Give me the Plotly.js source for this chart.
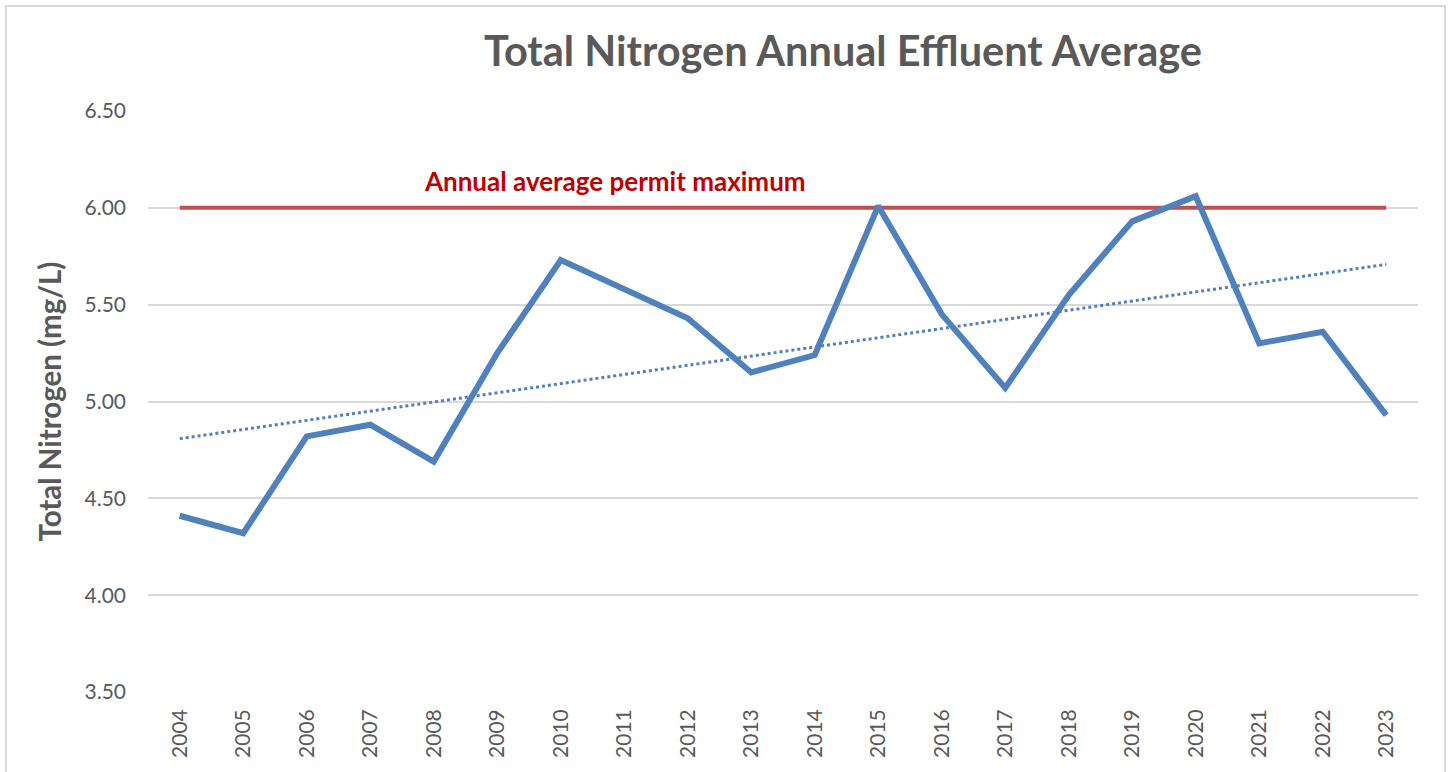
<!DOCTYPE html>
<html>
<head>
<meta charset="utf-8">
<script src="https://cdn.plot.ly/plotly-3.0.1.min.js"></script>
<style>
html,body{margin:0;padding:0;background:#fff;}
#chart{width:1452px;height:772px;}
</style>
</head>
<body>
<div id="chart"></div>
<script>
// ---- data ----
const years = ["2004","2005","2006","2007","2008","2009","2010","2011","2012","2013",
               "2014","2015","2016","2017","2018","2019","2020","2021","2022","2023"];
const totalNitrogen = [4.41,4.32,4.82,4.88,4.69,5.25,5.73,5.58,5.43,5.15,
                       5.24,6.01,5.45,5.07,5.55,5.93,6.06,5.30,5.36,4.93];
const permitMaximum = 6.00;
const permitLabel = "Annual average permit maximum";
const chartTitle = "Total Nitrogen Annual Effluent Average";
const yTitle = "Total Nitrogen (mg/L)";
const yTicks = [3.5,4.0,4.5,5.0,5.5,6.0,6.5];

// linear trendline (least squares, as the spreadsheet draws it)
const n = totalNitrogen.length;
const xs = totalNitrogen.map((_, i) => i);
const mx = xs.reduce((a,b)=>a+b,0)/n;
const my = totalNitrogen.reduce((a,b)=>a+b,0)/n;
let sxy = 0, sxx = 0;
for (let i=0;i<n;i++){ sxy += (xs[i]-mx)*(totalNitrogen[i]-my); sxx += (xs[i]-mx)*(xs[i]-mx); }
const slope = sxy/sxx, intercept = my - slope*mx;
const trend = xs.map(x => intercept + slope*x);
const permitLine = years.map(() => permitMaximum);

const FONT = "Lato, 'Open Sans', sans-serif";
const GRAY = "#595959";

const traces = [
  {x: years, y: permitLine, type: "scatter", mode: "lines",
   line: {color: "#C0504D", width: 4}, hoverinfo: "skip", showlegend: false},
  {x: years, y: trend, type: "scatter", mode: "lines",
   line: {color: "#4F81BD", width: 3, dash: "dot"}, showlegend: false},
  {x: years, y: totalNitrogen, type: "scatter", mode: "lines",
   line: {color: "#4F81BD", width: 6}, showlegend: false}
];

const W = 1452, H = 772, L = 148, R = 34, T = 111, B = 80;
const pw = W - L - R, ph = H - T - B;

const layout = {
  width: W, height: H,
  margin: {l: L, r: R, t: T, b: B, pad: 0},
  paper_bgcolor: "#fff", plot_bgcolor: "#fff",
  font: {family: FONT, color: GRAY},
  title: {text: "<b>" + chartTitle + "</b>", font: {family: FONT, size: 41.5, color: GRAY},
          x: 843/W, xref: "container", xanchor: "center",
          y: 1 - 51/H, yref: "container", yanchor: "middle"},
  xaxis: {type: "category", range: [-0.5, 19.5], showgrid: false, zeroline: false,
          showline: false, ticks: "", tickangle: -90, tickfont: {size: 21, color: GRAY, family: FONT},
          ticklabelstandoff: 12, fixedrange: true},
  yaxis: {range: [3.5, 6.5], tickvals: yTicks, tickformat: ".2f",
          showgrid: true, gridcolor: "#D9D9D9", gridwidth: 2, zeroline: false, showline: false,
          ticks: "", tickfont: {size: 21, color: GRAY, family: FONT}, ticklabelstandoff: 21,
          title: {text: "<b>" + yTitle + "</b>", font: {size: 29.5, color: GRAY, family: FONT}, standoff: 14},
          fixedrange: true},
  annotations: [
    {text: "<b>" + permitLabel + "</b>", xref: "paper", yref: "y",
     x: (615 - L)/pw, y: permitMaximum, yshift: 27, xanchor: "center", yanchor: "middle",
     showarrow: false, font: {family: FONT, size: 26, color: "#C00000"}}
  ],
  shapes: [
    {type: "rect", xref: "paper", yref: "paper",
     x0: (6 - L)/pw, x1: (1445 - L)/pw, y0: (H - B - 790)/ph, y1: (H - B - 6)/ph,
     line: {color: "#D9D9D9", width: 2}, fillcolor: "rgba(0,0,0,0)", layer: "below"}
  ]
};

Plotly.newPlot("chart", traces, layout, {staticPlot: true, displayModeBar: false});
</script>
</body>
</html>
